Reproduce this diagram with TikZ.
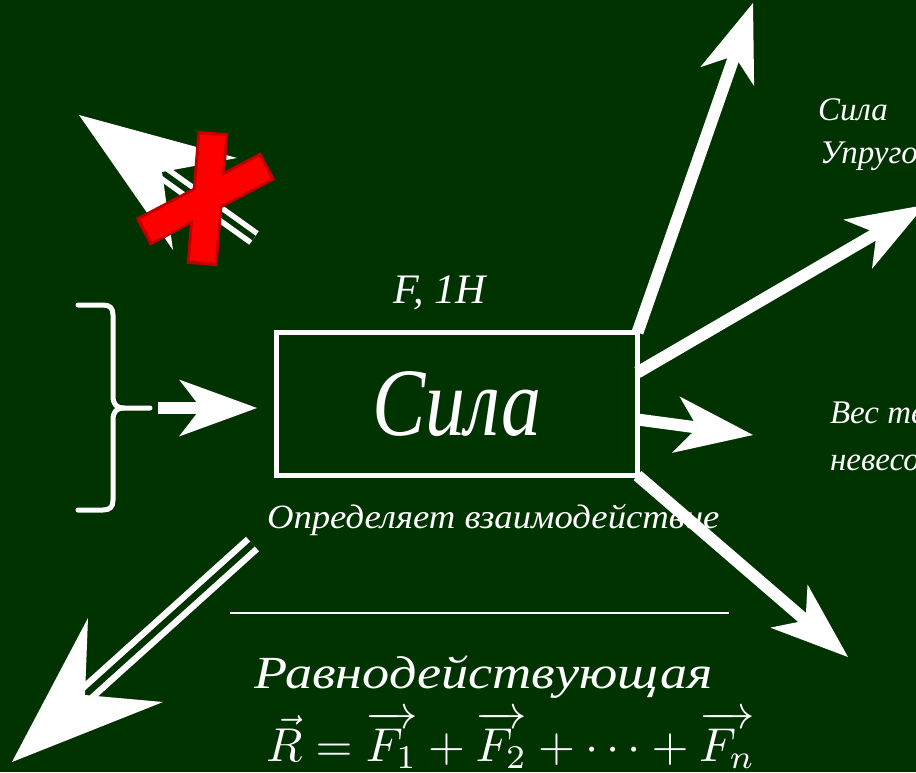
\documentclass[tikz,border=0pt]{standalone}
\usepackage{fontspec}
\setmainfont{Liberation Serif}
\usepackage{amsmath}
\usepackage{graphicx}
\usetikzlibrary{arrows.meta}
\definecolor{board}{HTML}{003300}
\definecolor{xred}{HTML}{FF0000}
\definecolor{xdark}{HTML}{C00000}
\tikzset{
  chalk/.style={text=white, inner sep=0pt, outer sep=0pt, anchor=base west},
  bigarrow/.style={draw=white, line width=12pt, -{Stealth[length=78pt,width=57pt,inset=22pt,line width=0pt]}},
  dbl/.style={draw=white, line width=6.5pt, double=board, double distance=6.5pt},
  bighead/.style={fill=white},
  bracestyle/.style={draw=white, line width=5pt, line cap=round, line join=round},
}
\newcommand{\fsz}[1]{\fontsize{#1}{#1}\selectfont}
\begin{document}
\begin{tikzpicture}[x=1pt,y=-1pt]
\useasboundingbox (0,0) rectangle (916,772);
\fill[board] (0,0) rectangle (916,772);
\clip (0,0) rectangle (916,772);

% main box
\node[draw=white, line width=5pt, minimum width=361.5pt, minimum height=143pt,
      inner sep=0pt, outer sep=0pt, text=white, font=\itshape\fsz{84}] (box)
      at (456.75,404) {\scalebox{0.95}[1.15]{Сила}};

% labels around box
\node[chalk, font=\itshape\fsz{42}] (fn) at (393,303) {F, 1Н};
\node[chalk, font=\itshape\fsz{34}] (def) at (267,528) {\scalebox{1.08}[1]{Определяет взаимодействие}};

% arrows leaving the box
\coordinate (tipUp) at (753,3);
\coordinate (tipUR) at (925,205);
\coordinate (tipR) at (753,435);
\coordinate (tipDR) at (848,657);
\draw[bigarrow] (box.north east) -- (tipUp);
\draw[bigarrow] ([yshift=-40pt]box.north east) -- (tipUR);
\draw[bigarrow] ([yshift=-87pt]box.north east) -- (tipR);
\draw[bigarrow] (box.south east) -- (tipDR);

% right labels
\node[chalk, font=\itshape\fsz{33}] (s1) at (818,120) {Сила};
\node[chalk, font=\itshape\fsz{33}] (s2) at (820,163) {Упругости};
\node[chalk, font=\itshape\fsz{33}] (w1) at (830,423) {Вес тела};
\node[chalk, font=\itshape\fsz{33}] (w2) at (830,470) {невесомость};

% brace and arrow into the box
\draw[bracestyle] (78,305) -- (103,305) .. controls (110,305) and (113,308) .. (113,315)
  -- (113,396) .. controls (113,404) and (116,408) .. (124,408) -- (150,408);
\draw[bracestyle] (124,408) .. controls (116,408) and (113,412) .. (113,420)
  -- (113,500) .. controls (113,507) and (110,510) .. (103,510) -- (78,510);
\coordinate (braceTip) at (158,408);
\draw[bigarrow] (braceTip) -- ([xshift=-19pt,yshift=-4pt]box.west);

% lower-left double arrow
\coordinate (llStart) at (252.5,544);
\coordinate (llEnd) at (75,704);
\draw[dbl] (llStart) -- (llEnd);
\fill[bighead] (12,762) -- (88,618) -- (85,695) -- (163,702) -- cycle;

% crossed-out double arrow
\coordinate (ulStart) at (254,238);
\coordinate (ulEnd) at (152,165);
\draw[dbl, line width=5.5pt, double distance=5.5pt] (ulStart) -- (ulEnd);
\fill[bighead] (79,115) -- (237,158) -- (162,172) -- (173,250) -- cycle;

% red cross
\draw[xdark, line width=31pt] (213,132) -- (202,265);
\draw[xdark, line width=31pt] (143,232) -- (268,166);
\draw[xred, line width=25pt] (212.7,135.5) -- (202.3,261.5);
\draw[xred, line width=25pt] (146.1,230.4) -- (264.9,167.6);

% separator and resultant
\coordinate (sepL) at (230,613);
\coordinate (sepR) at (729,613);
\draw[white, line width=2pt] (sepL) -- (sepR);
\node[chalk, font=\itshape\fsz{46}] (res) at (254,688) {\scalebox{1.18}[1]{Равнодействующая}};
\node[chalk] (formula) at (266,761)
  {\scalebox{4.75}{$\vec{R}=\overrightarrow{F_1}+\overrightarrow{F_2}+\cdots+\overrightarrow{F_n}$}};
\end{tikzpicture}
\end{document}
